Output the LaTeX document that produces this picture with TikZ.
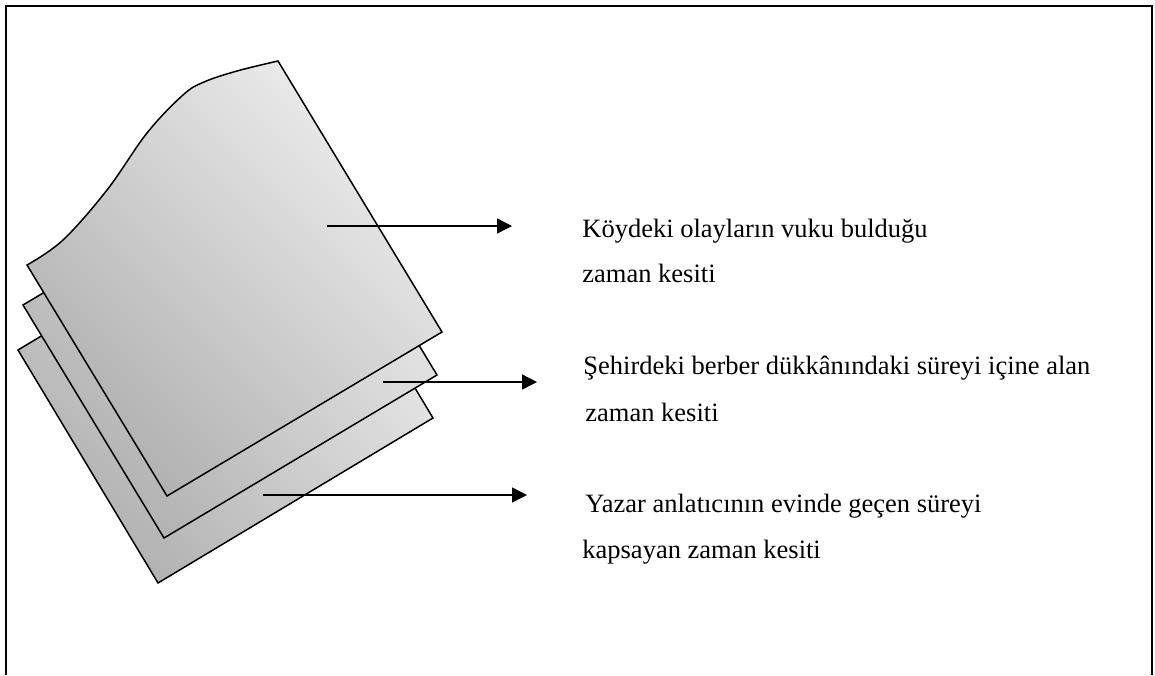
\documentclass[tikz,border=0pt]{standalone}
\usepackage{fontspec}
\setmainfont{Liberation Serif}
\usetikzlibrary{arrows.meta,positioning}

\begin{document}
\begin{tikzpicture}[
		x=0.5pt, y=-0.5pt,
		sheet/.style={draw=black, line width=0.75pt, top color=black!7, bottom color=black!31, shading angle=-45},
		post/.style={-{Triangle[length=7.5pt,width=7.5pt]}, line width=0.7pt},
		txt/.style={anchor=base west, inner sep=0pt, font=\fontsize{13.25}{16}\selectfont}]

	\useasboundingbox (0,0) rectangle (1155,675);
	\draw[line width=1pt] (6,675) -- (6,6) -- (1152,6) -- (1152,675);

	% the three sheets, back to front
	\path[sheet] (18,350) -- (293,185) -- (433,418) -- (158,583) -- cycle;
	\path[sheet] (23,305) -- (296,142) -- (437,375) -- (164,538) -- cycle;
	\path[sheet] plot[smooth, tension=0.6] coordinates {(27,265) (63,240) (107,190) (147,133) (183,95) (204,82) (237,71) (278,61)}
		-- (442,332) -- (167,496) -- cycle;

	\node[txt] (koy1) at (582,237) {Köydeki olayların vuku bulduğu};
	\node[txt] (koy2) at (582,282) {zaman kesiti};
	\node[txt] (sehir1) at (583,374) {Şehirdeki berber dükkânındaki süreyi içine alan};
	\node[txt] (sehir2) at (585,421) {zaman kesiti};
	\node[txt] (yazar1) at (585,512) {Yazar anlatıcının evinde geçen süreyi};
	\node[txt] (yazar2) at (582,558) {kapsayan zaman kesiti};

	\coordinate (koyS) at (327,226);
	\coordinate (koyE) at (512,226);
	\coordinate (sehirS) at (383,382);
	\coordinate (sehirE) at (537,382);
	\coordinate (yazarS) at (263,495);
	\coordinate (yazarE) at (527,495);

	\draw[post] (koyS) -- (koyE);
	\draw[post] (sehirS) -- (sehirE);
	\draw[post] (yazarS) -- (yazarE);
\end{tikzpicture}
\end{document}
